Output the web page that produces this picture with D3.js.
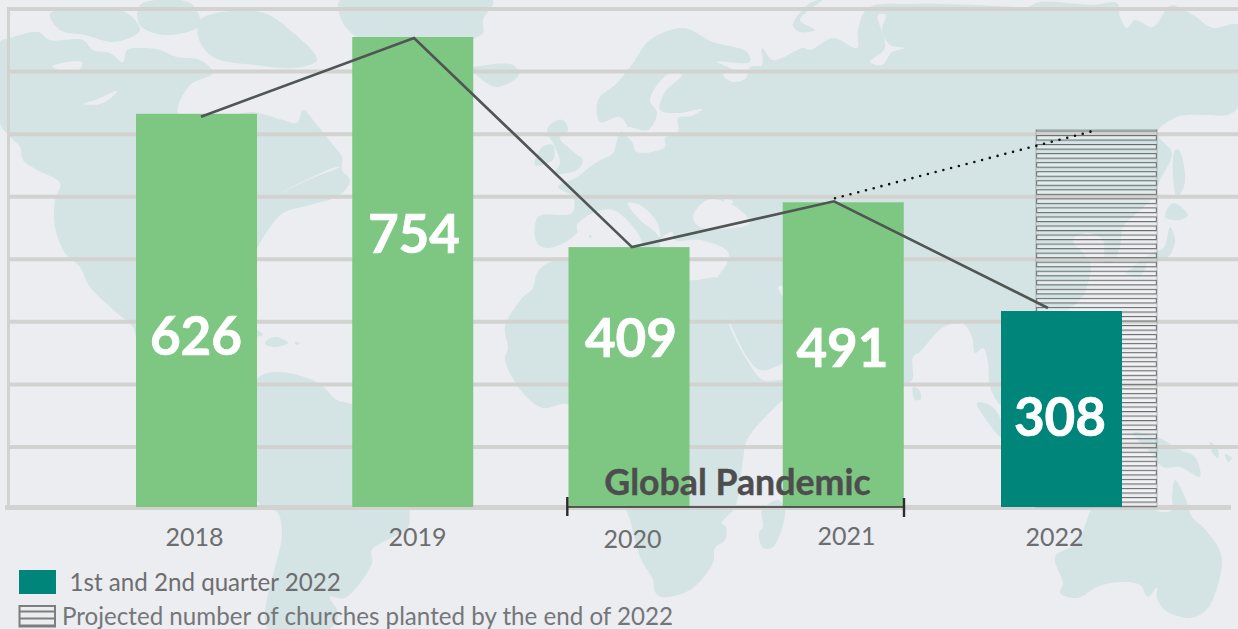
<!DOCTYPE html>
<html>
<head>
<meta charset="utf-8">
<script src="https://cdn.jsdelivr.net/npm/d3@7"></script>
<style>
html, body { margin: 0; padding: 0; background: #ebedf1; overflow: hidden; }
text { font-family: Lato, sans-serif; }
</style>
</head>
<body>
<svg width="1238" height="629"></svg>
<script>
var years = ["2018", "2019", "2020", "2021", "2022"];
var churches = [626, 754, 409, 491, 308];
// bar heights as drawn in the original, they do not quite follow the printed numbers
var barLevels = [629, 754, 412, 485, 308];
var projectedYear = "2022";
var projected = 603;
var gridLevels = [1, 2, 3, 4, 5, 6, 7, 8];

// the original is a hand placed infographic, so line and labels sit off the bar centres
var barNudge = [0, 0, 0, -2, 0];
var lineXs = [201, 414, 632, 834, 1048];
var lineNudge = [3, 1, 0, -1, -3];
var tickXs = [194, 417, 632, 846, 1054];
var tickNudge = [0, 0, 2, -0.5, 0.5];
var valueXs = [196, 414, 631, 842.5, 1060];
var valueYs = [355, 253, 357, 367, 436];

// background map outlines, traced in page pixels
var land = [
  // north america
  [[0,42],[10,38],[38,32],[50,40],[83,40],[93,50],[110,53],[123,62],[127,50],[143,48],[160,50],[177,57],[200,60],[213,73],[190,85],[178,113],[200,125],[250,112],[283,120],[297,123],[303,110],[317,125],[333,145],[342,157],[342,170],[350,180],[340,195],[310,205],[283,213],[267,232],[257,250],[252,330],[200,345],[137,337],[133,327],[117,313],[90,287],[80,267],[65,253],[55,227],[55,200],[60,183],[37,170],[23,160],[20,147],[10,137],[0,123]],
  [[200,20],[260,12],[290,30],[317,60],[295,68],[255,65],[215,58],[200,42]],
  [[50,14],[85,8],[125,12],[140,30],[115,42],[85,35],[60,30]],
  [[140,5],[190,3],[200,25],[165,35],[140,25]],
  // caribbean
  [[257,330],[263,335],[256,336]],
  [[267,340],[276,337],[288,343],[275,347],[265,344]],
  [[295,342],[300,343],[296,345]],
  // south america
  [[257,378],[277,372],[317,382],[337,400],[352,404],[400,430],[425,460],[415,495],[410,510],[408,527],[372,550],[372,563],[345,598],[330,597],[338,613],[330,629],[268,629],[282,533],[277,512],[263,507],[240,470],[225,420]],
  // greenland
  [[340,0],[493,0],[483,20],[483,33],[473,40],[440,80],[415,105],[390,60],[360,40],[343,23]],
  // iceland, britain, ireland
  [[472,68],[480,66],[513,65],[519,75],[497,87],[480,78]],
  [[552,123],[563,120],[568,130],[560,138],[575,153],[583,160],[577,170],[555,173],[560,163],[555,147],[547,130]],
  [[542,147],[553,145],[553,160],[535,165]],
  // eurasia
  [[598,100],[617,83],[633,63],[650,40],[683,28],[713,42],[747,52],[750,62],[717,62],[733,70],[723,75],[733,82],[746,78],[750,67],[762,65],[762,48],[773,60],[803,48],[810,50],[833,38],[857,48],[858,30],[868,8],[913,4],[1000,6],[1027,7],[1040,2],[1093,5],[1117,3],[1120,17],[1127,28],[1135,20],[1153,27],[1167,8],[1172,5],[1193,15],[1213,28],[1238,25],[1238,107],[1227,115],[1207,115],[1177,117],[1157,133],[1172,153],[1160,180],[1153,197],[1137,213],[1123,227],[1120,247],[1113,262],[1105,262],[1103,240],[1087,233],[1073,240],[1090,263],[1087,287],[1080,300],[1060,320],[1070,340],[1060,370],[1022,385],[1005,400],[1001,405],[990,387],[988,362],[983,348],[975,353],[972,337],[962,323],[942,328],[920,352],[913,357],[912,380],[900,385],[880,340],[850,325],[800,345],[783,363],[760,370],[747,357],[730,323],[713,288],[717,278],[727,263],[728,252],[700,240],[675,240],[672,232],[660,240],[660,250],[650,260],[637,232],[613,210],[593,213],[577,225],[577,233],[550,248],[537,243],[538,217],[572,213],[573,197],[558,187],[577,177],[595,163],[613,153],[617,140],[622,130],[627,127],[620,117],[600,122]],
  [[793,25],[810,3],[822,0],[800,20],[815,30],[800,32]],
  // africa
  [[548,263],[537,273],[533,288],[522,298],[505,327],[508,348],[505,360],[523,393],[543,408],[569,405],[600,470],[627,512],[640,557],[653,580],[655,592],[662,597],[690,590],[713,563],[715,548],[725,540],[726,527],[722,523],[735,507],[743,460],[747,440],[783,400],[800,388],[783,380],[763,380],[747,360],[730,327],[723,300],[713,288],[717,278],[690,280],[660,268],[620,262],[590,255]],
  [[762,510],[778,500],[785,510],[773,547],[763,548],[759,533],[763,527]],
  // australia
  [[1055,557],[1063,583],[1060,593],[1077,598],[1097,587],[1120,582],[1140,585],[1148,597],[1157,587],[1157,598],[1165,610],[1190,618],[1208,608],[1222,563],[1218,547],[1203,527],[1192,517],[1185,497],[1175,480],[1172,497],[1172,510],[1163,512],[1147,508],[1093,508],[1087,520],[1077,543]],
  // indonesia and japan
  [[1133,433],[1157,437],[1180,450],[1195,457],[1200,477],[1180,467],[1163,467],[1150,452]],
  [[977,403],[990,405],[1001,420],[1001,437],[990,425]],
  [[1210,442],[1218,450],[1218,458],[1212,452]],
  [[1225,454],[1232,458],[1228,462]],
  [[913,387],[919,390],[921,399],[915,400]],
  [[1175,150],[1179,150],[1185,182],[1177,197],[1173,175]],
  [[1165,217],[1173,203],[1188,215],[1180,220]],
  [[1170,227],[1175,240],[1168,257],[1147,263],[1133,267],[1150,254],[1164,247]],
  [[1125,273],[1146,264],[1140,276]],
  [[589,235],[592,236],[590,238]]
];
// inland seas and lakes cut back out of the land
var water = [
  // baltic
  [[667,75],[682,75],[665,92],[660,110],[680,113],[702,109],[692,116],[678,118],[678,132],[665,138],[665,147],[637,152],[632,142],[622,130],[628,127],[648,130],[657,113],[650,100]],
  // black sea, adriatic
  [[693,217],[707,200],[733,205],[750,223],[733,228],[700,227]],
  [[628,203],[640,205],[657,222],[660,237],[655,232],[638,218]],
  [[724,200],[733,201],[732,204],[726,204]],
  // persian gulf
  [[778,287],[783,286],[784,297]],
  // hudson bay and canadian lakes
  [[182,108],[190,88],[213,76],[245,78],[270,84],[305,95],[320,115],[303,108],[296,122],[284,116],[272,98],[240,104],[205,110]],
  [[83,104],[95,100],[117,91],[112,97],[100,104]],
  [[52,66],[82,62],[80,69],[60,70]],
  [[279,194],[300,183],[333,168],[340,167],[308,180]],
  // yenisei
  [[878,15],[886,15],[882,30],[890,45],[905,48],[892,52],[882,65],[870,62],[885,48]]
];

var svg = d3.select("svg");
var width = +svg.attr("width");
var baseline = 507;

var x = d3.scaleBand().domain(years).range([136, 1122]).paddingInner(0.4405).paddingOuter(0);
var y = d3.scaleLinear().domain([-11, 754]).range([baseline, 37]);
var gridY = d3.scaleLinear().domain([0, 8]).range([509.5, 9]);
var lineX = d3.scaleOrdinal().domain(years).range(lineXs);
var tickX = d3.scaleOrdinal().domain(years).range(tickXs);

var outline = d3.line().curve(d3.curveCatmullRomClosed.alpha(0.5));

var projectedLeft = x(projectedYear) + 35;

var defs = svg.append("defs");
var hatch = defs.append("pattern")
    .attr("id", "hatch")
    .attr("width", x.bandwidth())
    .attr("height", 9.05)
    .attr("patternUnits", "userSpaceOnUse")
    .attr("patternTransform", "translate(" + projectedLeft + ",8.3)");
hatch.append("rect")
    .attr("x", 0.6).attr("y", 0.5)
    .attr("width", x.bandwidth() - 1.2).attr("height", 4.6)
    .attr("fill", "#fff").attr("fill-opacity", 0.3)
    .attr("stroke", "#6a6c6c").attr("stroke-width", 1.15);

var smallHatch = defs.append("pattern")
    .attr("id", "hatchSmall")
    .attr("width", 12)
    .attr("height", 7)
    .attr("patternUnits", "userSpaceOnUse")
    .attr("patternTransform", "translate(0,610.5)");
smallHatch.append("rect").attr("width", 12).attr("height", 2).attr("fill", "#7d7e7e");

// map
svg.append("g").selectAll("path").data(land).enter().append("path")
    .attr("d", outline)
    .attr("fill", "#d4e4e4");
svg.append("g").selectAll("path").data(water).enter().append("path")
    .attr("d", outline)
    .attr("fill", "#ebedf1");

// grid
svg.append("g").selectAll("line").data(gridLevels).enter().append("line")
    .attr("x1", 8)
    .attr("x2", width)
    .attr("y1", gridY)
    .attr("y2", gridY)
    .attr("stroke", "#d2d3d1")
    .attr("stroke-width", 4);
svg.append("line")
    .attr("x1", 8.5).attr("x2", 8.5)
    .attr("y1", 7).attr("y2", baseline)
    .attr("stroke", "#d2d3d1")
    .attr("stroke-width", 3);
svg.append("line")
    .attr("x1", 5).attr("x2", 1231)
    .attr("y1", 507.5).attr("y2", 507.5)
    .attr("stroke", "#d2d3d1")
    .attr("stroke-width", 5);

// projected bar sits behind the teal one, shifted right
svg.append("rect")
    .attr("x", projectedLeft)
    .attr("y", y(projected))
    .attr("width", x.bandwidth())
    .attr("height", baseline - y(projected))
    .attr("fill", "url(#hatch)")
    .attr("stroke", "#9a9c9c")
    .attr("stroke-opacity", 0.6)
    .attr("stroke-width", 1.2);

// bars
svg.append("g").selectAll("rect").data(years).enter().append("rect")
    .attr("x", function (d, i) { return x(d) + barNudge[i]; })
    .attr("y", function (d, i) { return y(barLevels[i]); })
    .attr("width", x.bandwidth())
    .attr("height", function (d, i) { return baseline - y(barLevels[i]); })
    .attr("fill", function (d) { return d === projectedYear ? "#00857a" : "#7dc782"; });

var trend = d3.line()
    .x(function (d) { return lineX(d); })
    .y(function (d, i) { return y(barLevels[i]) + lineNudge[i]; });
svg.append("path")
    .attr("d", trend(years))
    .attr("fill", "none")
    .attr("stroke", "#4f5654")
    .attr("stroke-width", 2.6);

// dotted projection from the 2021 point to the top of the hatched bar
svg.append("line")
    .attr("x1", lineX("2021") + 1)
    .attr("y1", y(barLevels[3]) - 4)
    .attr("x2", x(projectedYear) + 91)
    .attr("y2", y(projected) + 1.5)
    .attr("stroke", "#111")
    .attr("stroke-width", 2.6)
    .attr("stroke-linecap", "round")
    .attr("stroke-dasharray", "0 8");

// value labels
svg.append("g").selectAll("text").data(churches).enter().append("text")
    .attr("x", function (d, i) { return valueXs[i]; })
    .attr("y", function (d, i) { return valueYs[i]; })
    .attr("text-anchor", "middle")
    .attr("font-size", 53)
    .attr("font-weight", 700)
    .attr("fill", "#fff")
    .attr("stroke", "#fff")
    .attr("stroke-width", 0.7)
    .text(function (d) { return d; });

// year axis
var axis = svg.append("g")
    .attr("transform", "translate(0," + baseline + ")")
    .call(d3.axisBottom(tickX).tickSize(0).tickPadding(21));
axis.select(".domain").remove();
axis.selectAll("text")
    .attr("font-size", 25)
    .attr("font-family", "Lato, sans-serif")
    .attr("fill", "#6d6e70")
    .attr("transform", function (d, i) { return "translate(0," + tickNudge[i] + ")"; });

// pandemic bracket
svg.append("text")
    .attr("x", 737.5)
    .attr("y", 494.5)
    .attr("text-anchor", "middle")
    .attr("font-size", 35.7)
    .attr("font-weight", 700)
    .attr("fill", "#4d4d4f")
    .attr("stroke", "#4d4d4f")
    .attr("stroke-width", 0.4)
    .text("Global Pandemic");
var bracket = d3.path();
bracket.moveTo(567.3, baseline);
bracket.lineTo(904, baseline);
svg.append("path")
    .attr("d", bracket.toString())
    .attr("fill", "none")
    .attr("stroke", "#333")
    .attr("stroke-width", 1.6);
var bracketEnds = d3.path();
bracketEnds.moveTo(567.3, 497);
bracketEnds.lineTo(567.3, 516);
bracketEnds.moveTo(904, 498);
bracketEnds.lineTo(904, 517);
svg.append("path")
    .attr("d", bracketEnds.toString())
    .attr("fill", "none")
    .attr("stroke", "#2c2c2c")
    .attr("stroke-width", 2.4);

// legend
svg.append("rect")
    .attr("x", 19).attr("y", 570)
    .attr("width", 37).attr("height", 24)
    .attr("fill", "#00857a");
svg.append("text")
    .attr("x", 69.5).attr("y", 590.5)
    .attr("font-size", 24.15)
    .attr("fill", "#6d6e70")
    .text("1st and 2nd quarter 2022");
svg.append("rect")
    .attr("x", 19.5).attr("y", 606)
    .attr("width", 35.5).attr("height", 20.5)
    .attr("fill", "url(#hatchSmall)")
    .attr("stroke", "#7d7e7e")
    .attr("stroke-width", 2);
svg.append("text")
    .attr("x", 62).attr("y", 625)
    .attr("font-size", 24.15)
    .attr("fill", "#75767a")
    .text("Projected number of churches planted by the end of 2022");
</script>
</body>
</html>
